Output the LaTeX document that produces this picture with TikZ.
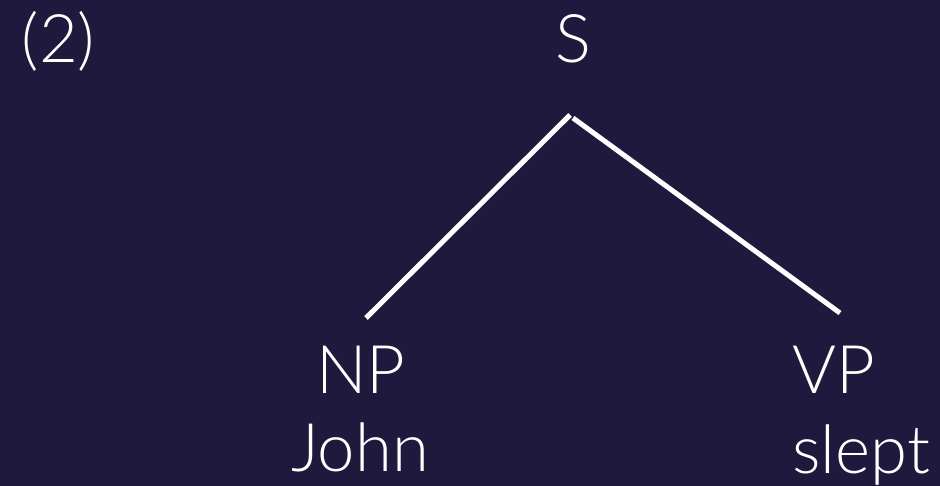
\documentclass[tikz,border=0pt]{standalone}
\usepackage{fontspec}
\setmainfont{Lato Light}
\definecolor{bg}{RGB}{31,25,61}
\begin{document}
\begin{tikzpicture}[x=1pt,y=-1pt,
  lbl/.style={text=white,inner sep=0pt,anchor=base,font=\fontsize{67}{80}\selectfont},
  edge/.style={white,line width=5pt}]
\fill[bg] (0,0) rectangle (940,486);
\useasboundingbox (0,0) rectangle (940,486);
\node[lbl] (ex) at (58.5,63) {(2)};
\node[lbl] (S) at (573.5,63) {S};
\node[lbl] (NP) at (361,393) {NP};
\node[lbl] (VP) at (833.5,393) {VP};
\node[lbl] (John) at (360,471) {John};
\node[lbl] (slept) at (861,473) {slept};
\coordinate (sl) at (570,115);
\coordinate (sr) at (573,118);
\coordinate (npt) at (366,318);
\coordinate (vpt) at (840,313);
\draw[edge] (sl) -- (npt);
\draw[edge] (sr) -- (vpt);
\end{tikzpicture}
\end{document}
